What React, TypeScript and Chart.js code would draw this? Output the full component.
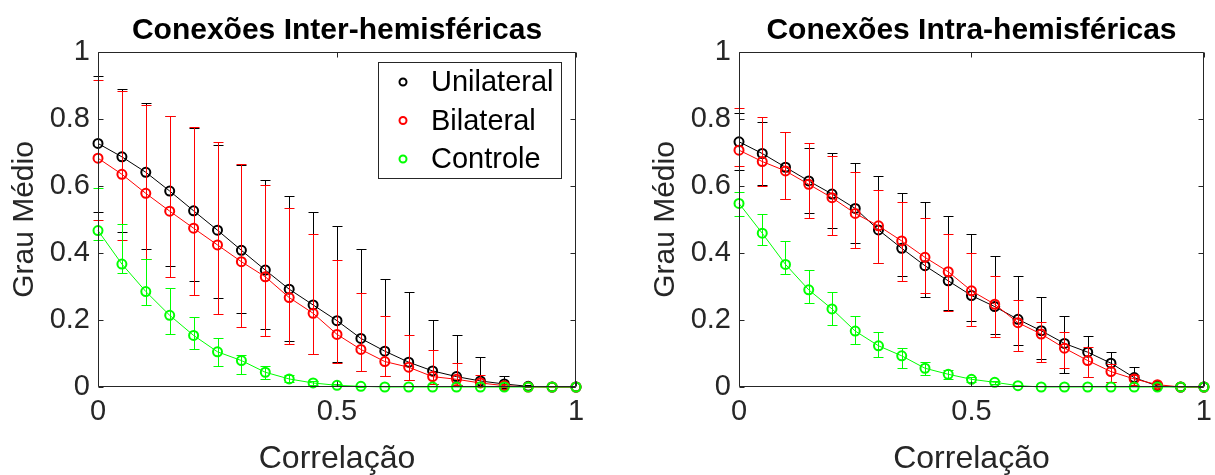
import React, { useEffect, useRef } from "react";
import { Chart, registerables } from "chart.js";

Chart.register(...registerables);

const correlacao = [0, 0.05, 0.1, 0.15, 0.2, 0.25, 0.3, 0.35, 0.4, 0.45, 0.5, 0.55, 0.6, 0.65, 0.7, 0.75, 0.8, 0.85, 0.9, 0.95, 1];
const seriesLabels = ["Unilateral", "Bilateral", "Controle"];
const seriesColors = ["#000000", "#ff0000", "#00ff00"];
const titles = ["Conexões Inter-hemisféricas", "Conexões Intra-hemisféricas"];
const xTitle = "Correlação";
const yTitle = "Grau Médio";

// Inter-hemisféricas
const uniInter = [0.727, 0.687, 0.641, 0.585, 0.526, 0.468, 0.408, 0.349, 0.292, 0.245, 0.198, 0.145, 0.107, 0.074, 0.048, 0.031, 0.018, 0.009, 0.002, 0, 0];
const uniInterHi = [0.929, 0.889, 0.849, 0.808, 0.774, 0.722, 0.662, 0.619, 0.571, 0.523, 0.481, 0.412, 0.322, 0.285, 0.2, 0.154, 0.09, 0.033, 0.005, 0, 0];
const uniInterLo = [0.523, 0.463, 0.413, 0.362, 0.315, 0.265, 0.221, 0.174, 0.137, 0.1, 0.074, 0.049, 0.033, 0.021, 0.01, 0.005, 0.002, 0, 0, 0, 0];
const biInter = [0.683, 0.635, 0.578, 0.525, 0.474, 0.424, 0.374, 0.329, 0.267, 0.22, 0.157, 0.112, 0.076, 0.059, 0.031, 0.023, 0.012, 0.004, 0, 0, 0];
const biInterHi = [0.916, 0.884, 0.843, 0.809, 0.777, 0.732, 0.665, 0.602, 0.533, 0.457, 0.379, 0.282, 0.212, 0.154, 0.11, 0.071, 0.036, 0.01, 0, 0, 0];
const biInterLo = [0.498, 0.439, 0.383, 0.328, 0.275, 0.218, 0.178, 0.152, 0.128, 0.1, 0.073, 0.049, 0.033, 0.021, 0.01, 0.005, 0.002, 0, 0, 0, 0];
const ctrlInter = [0.467, 0.367, 0.285, 0.214, 0.154, 0.105, 0.079, 0.044, 0.024, 0.012, 0.005, 0.002, 0, 0, 0, 0, 0, 0, 0, 0, 0];
const ctrlInterHi = [0.595, 0.487, 0.382, 0.297, 0.21, 0.147, 0.097, 0.063, 0.035, 0.018, 0.008, 0.003, 0, 0, 0, 0, 0, 0, 0, 0, 0];
const ctrlInterLo = [0.439, 0.339, 0.245, 0.157, 0.112, 0.064, 0.038, 0.025, 0.015, 0.007, 0.002, 0, 0, 0, 0, 0, 0, 0, 0, 0, 0];

// Intra-hemisféricas
const uniIntra = [0.732, 0.697, 0.656, 0.615, 0.576, 0.533, 0.469, 0.414, 0.362, 0.317, 0.273, 0.24, 0.202, 0.168, 0.13, 0.104, 0.071, 0.028, 0.003, 0, 0];
const uniIntraHi = [0.819, 0.79, 0.76, 0.712, 0.699, 0.669, 0.631, 0.58, 0.553, 0.51, 0.456, 0.392, 0.332, 0.27, 0.212, 0.152, 0.105, 0.059, 0.01, 0, 0];
const uniIntraLo = [0.648, 0.604, 0.562, 0.52, 0.476, 0.431, 0.371, 0.331, 0.27, 0.23, 0.197, 0.158, 0.126, 0.085, 0.043, 0.029, 0.016, 0.002, 0, 0, 0];
const biIntra = [0.707, 0.673, 0.645, 0.605, 0.565, 0.518, 0.481, 0.436, 0.387, 0.344, 0.287, 0.247, 0.192, 0.158, 0.116, 0.079, 0.046, 0.024, 0.007, 0, 0];
const biIntraHi = [0.832, 0.805, 0.76, 0.729, 0.69, 0.642, 0.588, 0.553, 0.504, 0.457, 0.399, 0.332, 0.26, 0.195, 0.165, 0.12, 0.07, 0.035, 0.012, 0, 0];
const biIntraLo = [0.66, 0.601, 0.562, 0.504, 0.455, 0.415, 0.369, 0.317, 0.28, 0.227, 0.182, 0.15, 0.108, 0.076, 0.056, 0.029, 0.016, 0.005, 0, 0, 0];
const ctrlIntra = [0.548, 0.459, 0.366, 0.29, 0.233, 0.167, 0.123, 0.093, 0.056, 0.038, 0.023, 0.014, 0.004, 0, 0, 0, 0, 0, 0, 0, 0];
const ctrlIntraHi = [0.583, 0.516, 0.437, 0.349, 0.283, 0.212, 0.163, 0.115, 0.074, 0.05, 0.03, 0.018, 0.006, 0, 0, 0, 0, 0, 0, 0, 0];
const ctrlIntraLo = [0.51, 0.424, 0.337, 0.25, 0.185, 0.128, 0.09, 0.056, 0.036, 0.025, 0.015, 0.008, 0.002, 0, 0, 0, 0, 0, 0, 0, 0];

const yTicks = [0, 0.2, 0.4, 0.6, 0.8, 1];
const xTicks = [0, 0.5, 1];

const FONT = "'Liberation Sans', Arial, Helvetica, sans-serif";
const AX = "#262626";

const fmt = (v: number) => String(Math.round(v * 10) / 10);

const matlabPlugin = {
  id: "matlab",
  beforeDatasetDraw(chart: any, args: any) {
    const opts = chart.options.plugins.matlab;
    const err = opts.errors[args.index];
    if (!err) return;
    const ds = chart.data.datasets[args.index];
    const xs = chart.scales.x;
    const ys = chart.scales.y;
    const ctx = chart.ctx;
    ctx.save();
    ctx.strokeStyle = ds.borderColor;
    ctx.lineWidth = 1;
    for (let i = 0; i < correlacao.length; i++) {
      const hi = err.hi[i];
      const lo = err.lo[i];
      if (hi - lo < 0.0005) continue;
      const px = Math.round(xs.getPixelForValue(correlacao[i])) + 0.5;
      const yh = Math.round(ys.getPixelForValue(hi)) + 0.5;
      const yl = Math.round(ys.getPixelForValue(lo)) + 0.5;
      ctx.beginPath();
      ctx.moveTo(px, yh);
      ctx.lineTo(px, yl);
      ctx.moveTo(px - 5, yh);
      ctx.lineTo(px + 5, yh);
      ctx.moveTo(px - 5, yl);
      ctx.lineTo(px + 5, yl);
      ctx.stroke();
    }
    ctx.restore();
  },
  afterDraw(chart: any) {
    const opts = chart.options.plugins.matlab;
    const ctx = chart.ctx;
    const { left, right, top, bottom } = chart.chartArea;
    const xs = chart.scales.x;
    const ys = chart.scales.y;
    ctx.save();
    ctx.strokeStyle = AX;
    ctx.lineWidth = 1;
    const L = Math.round(left) + 0.5;
    const R = Math.round(right) - 0.5;
    const T = Math.round(top) + 0.5;
    const B = Math.round(bottom) - 0.5;
    ctx.beginPath();
    ctx.rect(L, T, R - L, B - T);
    const tl = 5;
    for (const v of yTicks) {
      const y = Math.round(ys.getPixelForValue(v)) + 0.5;
      ctx.moveTo(L, y);
      ctx.lineTo(L + tl, y);
      ctx.moveTo(R, y);
      ctx.lineTo(R - tl, y);
    }
    for (const v of xTicks) {
      const x = Math.round(xs.getPixelForValue(v)) + 0.5;
      ctx.moveTo(x, B);
      ctx.lineTo(x, B - tl);
      ctx.moveTo(x, T);
      ctx.lineTo(x, T + tl);
    }
    ctx.stroke();

    // title
    ctx.fillStyle = "#000";
    ctx.font = `bold 30px ${FONT}`;
    ctx.textAlign = "center";
    ctx.textBaseline = "alphabetic";
    ctx.fillText(opts.title, (left + right) / 2, 39);

    // legend
    if (opts.legend) {
      const lx = right - 198;
      const ly = top + 10;
      const lw = 183;
      const lh = 116;
      ctx.fillStyle = "#fff";
      ctx.fillRect(lx, ly, lw, lh);
      ctx.strokeStyle = AX;
      ctx.lineWidth = 1;
      ctx.strokeRect(Math.round(lx) + 0.5, Math.round(ly) + 0.5, lw, lh);
      ctx.font = `29px ${FONT}`;
      ctx.textAlign = "left";
      ctx.textBaseline = "middle";
      chart.data.datasets.forEach((ds: any, i: number) => {
        const cy = ly + 20 + i * 38.5;
        ctx.beginPath();
        ctx.strokeStyle = ds.borderColor;
        ctx.lineWidth = 2;
        ctx.arc(lx + 25, cy, 3.5, 0, Math.PI * 2);
        ctx.stroke();
        ctx.fillStyle = "#000";
        ctx.fillText(ds.label, lx + 53, cy + 1);
      });
    }
    ctx.restore();
  },
};

function makeConfig(idx: number, padLeft: number, padRight: number) {
  const groups = idx === 0
    ? [[uniInter, uniInterLo, uniInterHi], [biInter, biInterLo, biInterHi], [ctrlInter, ctrlInterLo, ctrlInterHi]]
    : [[uniIntra, uniIntraLo, uniIntraHi], [biIntra, biIntraLo, biIntraHi], [ctrlIntra, ctrlIntraLo, ctrlIntraHi]];
  const datasets = groups.map((g, i) => ({
    label: seriesLabels[i],
    data: correlacao.map((x, j) => ({ x, y: g[0][j] })),
    borderColor: seriesColors[i],
    backgroundColor: "rgba(0,0,0,0)",
    pointBackgroundColor: "rgba(0,0,0,0)",
    pointBorderColor: seriesColors[i],
    pointBorderWidth: 2,
    pointRadius: 4.5,
    borderWidth: 1,
    order: 3 - i,
    clip: false as any,
  }));
  const errors = groups.map((g) => ({ lo: g[1], hi: g[2] }));
  return {
    type: "line",
    data: { datasets },
    plugins: [matlabPlugin],
    options: {
      animation: false,
      responsive: false,
      events: [],
      layout: { padding: { left: padLeft, right: padRight, top: 52, bottom: 0 } },
      plugins: {
        legend: { display: false },
        title: { display: false },
        tooltip: { enabled: false },
        matlab: { errors, title: titles[idx], legend: idx === 0 },
      },
      scales: {
        x: {
          type: "linear",
          min: 0,
          max: 1,
          afterFit: (s: any) => { s.height = 88; },
          grid: { display: false, drawTicks: false },
          border: { display: false },
          ticks: {
            stepSize: 0.5,
            padding: 8,
            color: AX,
            font: { family: FONT, size: 29 },
            maxRotation: 0,
            callback: (v: any) => fmt(Number(v)),
          },
          title: {
            display: true,
            text: xTitle,
            color: AX,
            font: { family: FONT, size: 32, lineHeight: 1 },
            padding: { top: 0, bottom: 0 },
          },
        },
        y: {
          type: "linear",
          min: 0,
          max: 1,
          afterFit: (s: any) => { s.width = 98; },
          grid: { display: false, drawTicks: false },
          border: { display: false },
          ticks: {
            stepSize: 0.2,
            padding: 8,
            color: AX,
            font: { family: FONT, size: 29 },
            callback: (v: any) => fmt(Number(v)),
          },
          title: {
            display: true,
            text: yTitle,
            color: AX,
            font: { family: FONT, size: 30, lineHeight: 1 },
            padding: { top: 10, bottom: 0 },
          },
        },
      },
    },
  };
}

function Panel({ idx, left, width, padLeft, padRight }: any) {
  const ref = useRef<HTMLCanvasElement>(null);
  useEffect(() => {
    const chart = new Chart(ref.current as HTMLCanvasElement, makeConfig(idx, padLeft, padRight) as any);
    return () => chart.destroy();
  }, []);
  return (
    <canvas
      ref={ref}
      width={width}
      height={475}
      style={{ position: "absolute", left, top: 0, width, height: 475, display: "block" }}
    />
  );
}

export default function App() {
  return (
    <div style={{ position: "absolute", left: 0, top: 0, width: 1215, height: 475, background: "#fff", overflow: "hidden" }}>
      <Panel idx={0} left={0} width={607} padLeft={0} padRight={31} />
      <Panel idx={1} left={607} width={613} padLeft={34} padRight={8} />
    </div>
  );
}
